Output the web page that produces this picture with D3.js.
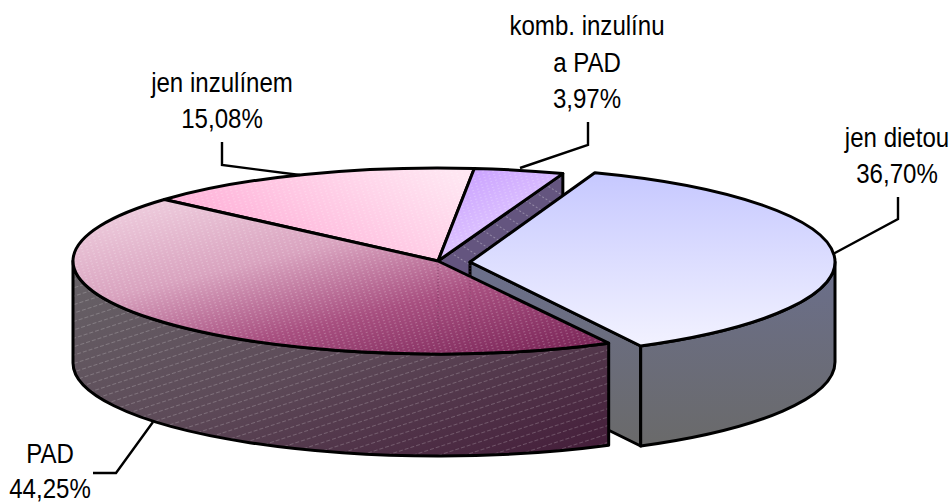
<!DOCTYPE html>
<html>
<head>
<meta charset="utf-8">
<script src="https://cdn.jsdelivr.net/npm/d3@7"></script>
<style>
  html, body { margin: 0; padding: 0; background: #fff; }
  text { font-family: "Liberation Sans", Arial, sans-serif; font-size: 27.5px; fill: #000; }
</style>
</head>
<body>
<svg id="chart" width="952" height="503"></svg>
<script>
const categories = ["jen dietou", "PAD", "jen inzulínem", "komb. inzulínu a PAD"];
const shares = [36.70, 44.25, 15.08, 3.97];
const shareLabels = ["36,70%", "44,25%", "15,08%", "3,97%"];

const width = 952, height = 503;
const cx = 438, cy = 261;
const rx = 365;
const startDeg = 20;
const rad = d => d * Math.PI / 180;

const svg = d3.select("#chart");
const defs = svg.append("defs");

// angles come from the data, ellipse is just a flattened circle
const slices = d3.pie().sort(null).startAngle(rad(startDeg)).endAngle(rad(startDeg + 360))(shares);

// per slice placement: detached slice sits a bit right and is a touch taller
const offsets = [[32, 1], [0, 0], [0, 0], [0, 0]];
const rys = [95, 93, 93, 93];
const depths = [100, 102, 101, 101];

function pt(a, i, dz = 0, scale = 1) {
  const [ox, oy] = offsets[i];
  return [cx + ox + rx * scale * Math.sin(a), cy + oy + dz - rys[i] * scale * Math.cos(a)];
}
function topPath(i) {
  const s = slices[i];
  const c = pt(0, i, 0, 0), p0 = pt(s.startAngle, i), p1 = pt(s.endAngle, i);
  const large = s.endAngle - s.startAngle > Math.PI ? 1 : 0;
  return `M${c}L${p0}A${rx},${rys[i]} 0 ${large} 1 ${p1}Z`;
}
function outerWall(i) {
  const s = slices[i];
  const a0 = Math.max(s.startAngle, Math.PI / 2), a1 = Math.min(s.endAngle, 1.5 * Math.PI);
  const t0 = pt(a0, i), t1 = pt(a1, i), b0 = pt(a0, i, depths[i]), b1 = pt(a1, i, depths[i]);
  return `M${t0}A${rx},${rys[i]} 0 0 1 ${t1}L${b1}A${rx},${rys[i]} 0 0 0 ${b0}Z`;
}
function cutWall(i, a) {
  const c = pt(0, i, 0, 0), p = pt(a, i), pb = pt(a, i, depths[i]), cb = pt(0, i, depths[i], 0);
  return `M${c}L${p}L${pb}L${cb}Z`;
}

function gradient(id, x1, y1, x2, y2, stops) {
  const g = defs.append("linearGradient").attr("id", id)
    .attr("x1", x1).attr("y1", y1).attr("x2", x2).attr("y2", y2);
  stops.forEach((c, k) => g.append("stop").attr("offset", k / (stops.length - 1)).attr("stop-color", c));
}
gradient("topDiet", 0, 0, 0, 1, ["#c6c8ff", "#f2f2ff"]);
gradient("wallDiet", 0, 0, 0, 1, ["#6b6f8c", "#6a6a6a"]);
gradient("topPad", 0.1, 0.1, 0.85, 1, ["#ecc8da", "#d9a3bf", "#a84f80", "#7f2a5c"]);
gradient("wallPad", 0, 0, 1, 1, ["#686468", "#5d4a58", "#431b38"]);
gradient("topInz", 0, 0.7, 1, 0.2, ["#ffa8d4", "#ffe6f2"]);
gradient("topKomb", 0.2, 0, 0.9, 1, ["#c9a0ff", "#ecdcff"]);

// fine dots on the tops, dashed diagonals on the walls
const dots = defs.append("pattern").attr("id", "dots").attr("patternUnits", "userSpaceOnUse")
  .attr("width", 5).attr("height", 3).attr("patternTransform", "rotate(-18)");
dots.append("rect").attr("width", 2).attr("height", 1).attr("fill", "#fff").attr("opacity", 0.22);

const hatch = defs.append("pattern").attr("id", "hatch").attr("patternUnits", "userSpaceOnUse")
  .attr("width", 6).attr("height", 8).attr("patternTransform", "rotate(-18)");
hatch.append("rect").attr("width", 4).attr("height", 1).attr("fill", "#fff").attr("opacity", 0.2);

const steepHatch = defs.append("pattern").attr("id", "steepHatch").attr("patternUnits", "userSpaceOnUse")
  .attr("width", 12).attr("height", 4).attr("patternTransform", "rotate(-58)");
steepHatch.append("rect").attr("width", 1).attr("height", 2).attr("fill", "#fff").attr("opacity", 0.3);

const g = svg.append("g").attr("stroke-linejoin", "round");

function face(d, fill, overlay) {
  g.append("path").attr("d", d).attr("fill", fill);
  if (overlay) g.append("path").attr("d", d).attr("fill", `url(#${overlay})`);
  g.append("path").attr("d", d).attr("fill", "none").attr("stroke", "#000").attr("stroke-width", 3);
}

const [DIET, PAD, INZ, KOMB] = [0, 1, 2, 3];

// back slices first
face(cutWall(KOMB, slices[KOMB].endAngle), "#64557f", "steepHatch");
face(topPath(INZ), "url(#topInz)", "dots");
face(topPath(KOMB), "url(#topKomb)", "dots");

// detached slice
face(cutWall(DIET, slices[DIET].endAngle), "url(#wallDiet)");
face(outerWall(DIET), "url(#wallDiet)");
face(topPath(DIET), "url(#topDiet)");

// front slice
face(outerWall(PAD), "url(#wallPad)", "hatch");
face(topPath(PAD), "url(#topPad)", "dots");

// faint edges showing through the PAD top
[pt(0, PAD, 0, 0), pt(0, DIET, 0, 0)].forEach(p => {
  g.append("line")
    .attr("x1", p[0]).attr("x2", p[0]).attr("y1", p[1] + 3).attr("y2", p[1] + 82)
    .attr("stroke", "#6b2f55").attr("stroke-width", 1).attr("stroke-dasharray", "1 2").attr("opacity", 0.6);
});

// labels, squeezed horizontally like the original
const labelLayout = [
  { x: 897, y: [147, 183], lines: [categories[0], shareLabels[0]] },
  { x: 50, y: [463, 498], lines: [categories[1], shareLabels[1]] },
  { x: 222, y: [92, 128], lines: [categories[2], shareLabels[2]] },
  { x: 587, y: [35, 72, 108], lines: ["komb. inzulínu", "a PAD", shareLabels[3]] }
];
labelLayout.forEach(l => {
  l.lines.forEach((t, k) => {
    svg.append("text")
      .attr("transform", `translate(${l.x},${l.y[k]}) scale(0.875,1)`)
      .attr("text-anchor", "middle")
      .text(t);
  });
});

// leader lines
const leaders = [
  [[898, 197], [898, 219], [833, 254]],
  [[93, 473], [116, 473], [153, 422]],
  [[222, 142], [222, 165], [300, 175]],
  [[588, 122], [588, 145], [520, 168]]
];
leaders.forEach(p => {
  svg.append("path").attr("d", d3.line()(p)).attr("fill", "none")
    .attr("stroke", "#000").attr("stroke-width", 2.4);
});
</script>
</body>
</html>
